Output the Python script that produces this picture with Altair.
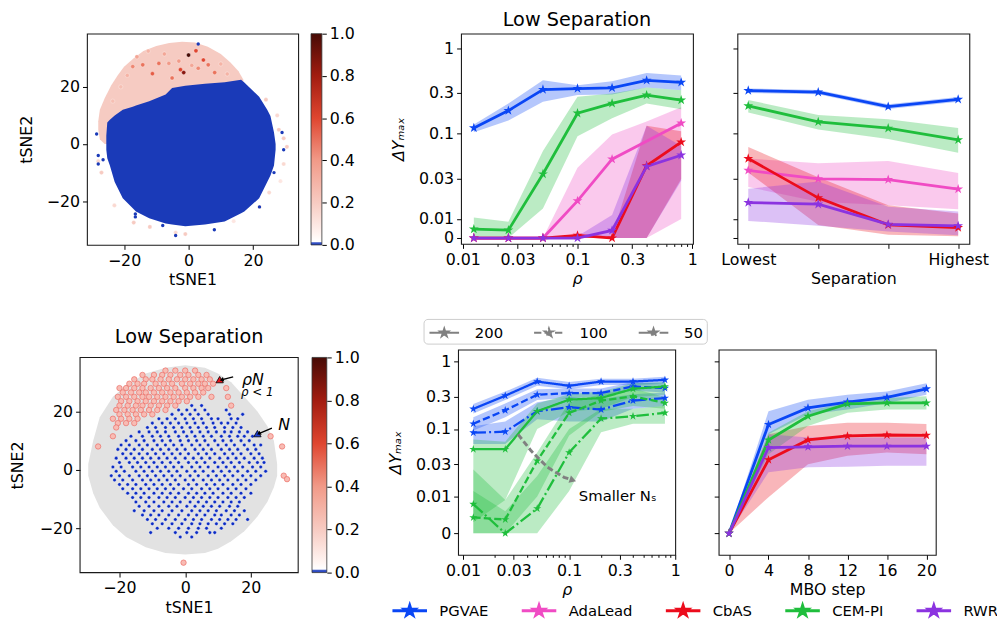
import math
import pandas as pd
import altair as alt

FONT = "DejaVu Sans"
METHODS = ["PGVAE", "AdaLead", "CbAS", "CEM-PI", "RWR"]
COLORS = ["#0a46f5", "#f04bc4", "#ec0c1c", "#1fbe3c", "#8b33e0"]

# ---------------- top middle: dYmax vs rho ----------------
RHO = [0.0125, 0.025, 0.05, 0.1, 0.2, 0.4, 0.8]
TM_M = {
    "PGVAE": [0.117, 0.187, 0.33, 0.339, 0.345, 0.423, 0.401],
    "AdaLead": [0, 0, 0, 0.0163, 0.0503, None, 0.133],
    "CbAS": [0, 0, 0, 0.0014, 0, 0.0421, 0.0797],
    "CEM-PI": [0.00466, 0.00414, 0.0337, 0.174, 0.227, 0.284, 0.248],
    "RWR": [0, 0, 0, 0, 0.004, 0.0414, 0.056],
}
TM_LO = {
    "PGVAE": [0.104, 0.143, 0.238, 0.284, 0.289, 0.348, 0.324],
    "AdaLead": [0, 0, 0, 0, 0, 0, 0.01],
    "CbAS": [0, 0, 0, 0, 0, 0, 0.0295],
    "CEM-PI": [0, 0, 0.0133, 0.0936, 0.152, 0.227, 0.194],
    "RWR": [0, 0, 0, 0, 0, 0, 0.028],
}
TM_HI = {
    "PGVAE": [0.128, 0.227, 0.423, 0.37, 0.412, 0.514, 0.483],
    "AdaLead": [0, 0, 0, 0.04, 0.098, 0.139, 0.204],
    "CbAS": [0, 0, 0, 0.002, 0.001, 0.124, 0.107],
    "CEM-PI": [0.0104, 0.0086, 0.0628, 0.271, 0.296, 0.348, 0.324],
    "RWR": [0, 0, 0, 0.001, 0.0111, 0.124, 0.0717],
}

# ---------------- top right: dYmax vs separation ----------------
SEP = [0, 1, 2, 3]
SEP_LABELS = ["Lowest", "", "", "Highest"]
TR_M = {
    "PGVAE": [0.321, 0.307, 0.208, 0.253],
    "AdaLead": [0.0372, 0.0295, 0.029, 0.0224],
    "CbAS": [0.0512, 0.0177, 0.0069, 0.0055],
    "CEM-PI": [0.212, 0.138, 0.116, 0.0849],
    "RWR": [0.0156, 0.0149, 0.0072, 0.0064],
}
TR_LO = {
    "PGVAE": [0.300, 0.290, 0.195, 0.238],
    "AdaLead": [0.0237, 0.0159, 0.0145, 0.013],
    "CbAS": [0.0352, 0.0069, 0.0017, 0.0009],
    "CEM-PI": [0.178, 0.112, 0.087, 0.060],
    "RWR": [0.009, 0.0065, 0.0034, 0.0014],
}
TR_HI = {
    "PGVAE": [0.340, 0.325, 0.222, 0.270],
    "AdaLead": [0.0512, 0.0452, 0.048, 0.0346],
    "CbAS": [0.0698, 0.0308, 0.0145, 0.0116],
    "CEM-PI": [0.249, 0.166, 0.148, 0.117],
    "RWR": [0.0226, 0.0275, 0.0139, 0.0122],
}

# ---------------- bottom middle: dYmax vs rho for N_s ----------------
NS = ["200", "100", "50"]
BM_METHODS = ["PGVAE", "CEM-PI"]
BM_M = {
    ("PGVAE", "200"): [0.199, 0.313, 0.508, 0.439, 0.508, 0.508, 0.537],
    ("PGVAE", "100"): [0.12, 0.19, 0.324, 0.342, 0.342, 0.429, 0.405],
    ("PGVAE", "50"): [0.0883, 0.0914, 0.184, 0.211, 0.195, 0.264, 0.289],
    ("CEM-PI", "200"): [0.0502, 0.0502, 0.184, 0.273, 0.289, 0.396, 0.429],
    ("CEM-PI", "100"): [0.0043, 0.00375, 0.0338, 0.174, 0.264, 0.306, 0.244],
    ("CEM-PI", "50"): [0.0079, 0.0, 0.0067, 0.0449, 0.143, 0.155, 0.174],
}
BM_LO = {
    ("PGVAE", "200"): [0.17, 0.27, 0.44, 0.39, 0.45, 0.45, 0.47],
    ("PGVAE", "100"): [0.095, 0.15, 0.27, 0.29, 0.30, 0.37, 0.35],
    ("PGVAE", "50"): [0.06, 0.06, 0.14, 0.13, 0.13, 0.20, 0.22],
    ("CEM-PI", "200"): [0.003, 0.009, 0.10, 0.18, 0.20, 0.30, 0.32],
    ("CEM-PI", "100"): [0, 0, 0.01, 0.08, 0.18, 0.22, 0.20],
    ("CEM-PI", "50"): [0, 0, 0, 0.012, 0.09, 0.12, 0.12],
}
BM_HI = {
    ("PGVAE", "200"): [0.235, 0.36, 0.58, 0.50, 0.56, 0.56, 0.60],
    ("PGVAE", "100"): [0.15, 0.24, 0.39, 0.40, 0.40, 0.50, 0.47],
    ("PGVAE", "50"): [0.11, 0.13, 0.25, 0.30, 0.28, 0.33, 0.35],
    ("CEM-PI", "200"): [0.07, 0.065, 0.24, 0.33, 0.36, 0.48, 0.50],
    ("CEM-PI", "100"): [0.025, 0.009, 0.045, 0.25, 0.33, 0.40, 0.30],
    ("CEM-PI", "50"): [0.012, 0.006, 0.02, 0.10, 0.20, 0.20, 0.22],
}
ARROW_RHO = [0.033, 0.0438, 0.0627, 0.0896, 0.106]
ARROW_V = [0.0835, 0.0474, 0.027, 0.0192, 0.0176]
NOTE_RHO = [0.1235]
NOTE_V = [0.01]
NOTE_TEXT = ["Smaller N\u209b"]

# ---------------- bottom right: dYmax vs MBO step ----------------
STEPS = [0, 4, 8, 12, 16, 20]
BR_METHODS = ["PGVAE", "CbAS", "CEM-PI", "RWR"]
BR_M = {
    "PGVAE": [0, 0.117, 0.206, 0.252, 0.296, 0.396],
    "CbAS": [0, 0.035, 0.0689, 0.0789, 0.0816, 0.0808],
    "CEM-PI": [0, 0.0689, 0.155, 0.236, 0.244, 0.244],
    "RWR": [0, 0.0532, 0.0544, 0.0556, 0.0556, 0.0556],
}
BR_LO = {
    "PGVAE": [0, 0.0835, 0.164, 0.195, 0.244, 0.324],
    "CbAS": [0, 0.0098, 0.03, 0.04, 0.0449, 0.0424],
    "CEM-PI": [0, 0.0424, 0.111, 0.174, 0.195, 0.195],
    "RWR": [0, 0.0228, 0.027, 0.0275, 0.0285, 0.0285],
}
BR_HI = {
    "PGVAE": [0, 0.184, 0.273, 0.324, 0.362, 0.48],
    "CbAS": [0, 0.0835, 0.111, 0.124, 0.124, 0.119],
    "CEM-PI": [0, 0.0883, 0.184, 0.252, 0.289, 0.306],
    "RWR": [0, 0.0835, 0.0746, 0.0746, 0.0746, 0.0746],
}

# ---------------- axis tick lists ----------------
Y_TICKS = [0, 0.01, 0.03, 0.1, 0.3, 1]
Y_TICK_LABELS = ["0", "0.01", "0.03", "0.1", "0.3", "1"]
RHO_MAJOR = [0.01, 0.03, 0.1, 0.3, 1]
RHO_MAJOR_LABELS = ["0.01", "0.03", "0.1", "0.3", "1"]
RHO_MINOR = [0.02, 0.04, 0.05, 0.06, 0.07, 0.08, 0.09, 0.2, 0.4, 0.5, 0.6, 0.7, 0.8, 0.9]
TSNE_TICKS = [-20, 0, 20]
CB_TICKS = [0.0, 0.2, 0.4, 0.6, 0.8, 1.0]

# colormap of the tSNE colorbar
CB_POS = [0.0, 0.01, 0.016, 0.05, 0.2, 0.4, 0.6, 0.8, 1.0]
CB_COL = ["#1e3ec0", "#3a56c6", "#ffffff", "#fff4f1", "#f7cbc2", "#f19a88",
          "#df4630", "#a21c10", "#470b05"]

# ---------------- top-left tSNE ----------------
CAP_X = [-28, -27.5, -26, -24, -22, -20, -17, -14, -10, -6, -2, 2, 6, 10, 13, 15.5, 17]
CAP_TOP = [8, 12, 16, 20.5, 24, 27, 30, 32.5, 34.3, 35.3, 35.8, 35.5, 34, 31.5, 28.5, 25.5, 22.5]
CAP_BOT = [5, 1.7, 0, 0, 0, 0, 0, 0, 0, 0, 0, 0, 0, 0, 0, 0, 0]
BLOB_X = [-25.5, -25.2, -24.4, -22.9, -20.4, -17.3, -16.3, -12.2, -7.1, -5.1, -1, 5.1,
          11.2, 16.3, 17.3, 21.9, 24.4, 25.4, 26.5, 27]
BLOB_TOP = [3, 7.5, 8.5, 10, 12, 13, 13.5, 15, 17.3, 19.6, 20.4, 21.1, 21.6, 22.5, 21.5,
            16.5, 12, 9.8, 4, 0]
BLOB_BOT = [-2, -5, -7.5, -13.3, -19, -22.5, -23.6, -26, -27.8, -28.2, -28.8, -28.2,
            -27.1, -24.2, -23.6, -19, -13.3, -11, -7.5, -2]
TL_PT_X = [0, -1.5, -2.5, 2.3, 4.6, -14.2, -11.2, -9.2, -5.1, 8.1, -17.3, 6.1, 3, -6.1,
           -16, -19, -3, 1, -7.5, -12.5, 10, -21, 12, -23.5,
           28, 29.5, 30.5, 29.5, 28.5, 25, 22, 14, -1, -4, -12, -17, -23, -27, -28, 24, 27.5]
TL_PT_Y = [31.1, 25, 26, 32.6, 29.4, 27.7, 24.6, 28.2, 23.1, 25, 27.1, 27.7, 26.5, 28.2,
           30.5, 24, 29, 27.5, 31.5, 32.5, 28, 20, 24.5, 15,
           5, 2, -1, -7, -13, -17, -22, -27, -31.5, -31, -29, -27.5, -21.5, -10, -6, 15.5, 10]
TL_PT_V = [1.0, 0.85, 0.6, 0.6, 0.6, 0.5, 0.55, 0.5, 0.5, 0.5, 0.45, 0.5, 0.45, 0.4,
           0.35, 0.3, 0.4, 0.35, 0.35, 0.3, 0.3, 0.25, 0.3, 0.25,
           0.2, 0.2, 0.2, 0.15, 0.1, 0.15, 0.1, 0.1, 0.2, 0.15, 0.2, 0.2, 0.15, 0.2, 0.15, 0.2, 0.15]
TL_BLUE_X = [-28.5, -28, -28, -26.5, -16.5, -16.5, -8, 8, 22, 29, 29.5, -4, 3, 26.5]
TL_BLUE_Y = [3.5, -4, -7, -5.5, -24.5, -25.5, -28.5, -30, -22, 4, -2, -32, 35, -10]

# ---------------- bottom-left tSNE ----------------
GRAY_X = [-29.5, -28, -26, -22, -18, -12, -6, 0, 6, 10, 14, 18, 22, 25, 27, 28]
GRAY_TOP = [2, 10, 18, 25, 29, 33, 35, 35.8, 35, 33, 30, 25, 20, 15, 10, 2]
GRAY_BOT = [-2, -8, -13, -19, -23, -26.5, -28.5, -29, -28.5, -27, -24.5, -21, -16, -11, -6, -2]
BLUE_ROWS = {
    22: [2, 5],
    20.5: [-2, 0.5, 3, 6, 12.5],
    19: [-4, -1, 1.5, 4, 7, 13.5, 17.5],
    17.5: [-8, -5.5, -3, 0, 2.5, 5, 8, 10, 14, 16],
    16: [-10, -7, -4.5, -2, 0.5, 3, 5.5, 8.5, 11, 13, 15.5],
    14.5: [-11.5, -9, -6, -3.5, -1, 1.5, 4, 6.5, 9, 12, 14.5, 17],
    13: [-14, -11, -8.5, -6, -3, -0.5, 2, 4.5, 7, 9.5, 12, 14, 16.5, 19],
    11.5: [-16.5, -13, -10, -7.5, -5, -2, 0.5, 3, 5.5, 8, 11, 13.5, 16, 18, 20.5],
    10: [-18, -15, -12.5, -9.5, -7, -4.5, -1.5, 1, 3.5, 6, 9, 11.5, 14, 17, 19.5],
    8.5: [-19.5, -17, -14, -11.5, -8.5, -6, -3.5, -1, 2, 4.5, 7, 10, 12.5, 15, 18, 21, 23],
    7: [-20.5, -18, -15.5, -13, -10, -7.5, -5, -2.5, 0, 3, 5.5, 8, 11, 13.5, 16, 19, 21.5],
    5.5: [-19, -16.5, -14, -11.5, -9, -6.5, -4, -1.5, 1, 4, 6.5, 9, 12, 14.5, 17, 20, 22.5],
    4: [-21, -18, -15.5, -13, -10.5, -8, -5.5, -3, 0, 2.5, 5, 7.5, 10.5, 13, 15.5, 18, 21, 23.5],
    2.5: [-20, -17, -14.5, -12, -9.5, -7, -4.5, -2, 1, 3.5, 6, 9, 11.5, 14, 16.5, 19.5, 22, 24],
    1: [-22, -19.5, -16, -13.5, -11, -8.5, -6, -3.5, -1, 2, 4.5, 7, 10, 12.5, 15, 17.5, 20.5, 23],
    -0.5: [-21, -18.5, -15, -12.5, -10, -7.5, -5, -2.5, 0.5, 3, 5.5, 8.5, 11, 13.5, 16, 19, 21.5, 24.5],
    -2: [-22.5, -20, -17, -14, -11.5, -9, -6.5, -4, -1.5, 1.5, 4, 7, 9.5, 12, 14.5, 17.5, 20, 23],
    -3.5: [-21.5, -19, -16, -13, -10.5, -8, -5.5, -3, 0, 2.5, 5.5, 8, 10.5, 13, 16, 18.5, 21.5],
    -5: [-20, -17.5, -15, -12, -9.5, -7, -4.5, -2, 1, 3.5, 6.5, 9, 11.5, 14.5, 17, 20],
    -6.5: [-19, -16, -13.5, -11, -8.5, -6, -3.5, -0.5, 2, 5, 7.5, 10, 13, 15.5, 18.5],
    -8: [-17.5, -15, -12.5, -9.5, -7, -4.5, -2, 1, 3.5, 6, 8.5, 11.5, 14, 17, 20],
    -9.5: [-16, -13.5, -11, -8, -5.5, -3, 0, 2.5, 5, 7.5, 10, 13, 15.5, 18],
    -11: [-15, -12, -9.5, -6.5, -4, -1.5, 1.5, 4, 6.5, 9, 11.5, 14, 16.5],
    -12.5: [-14, -11, -8, -5, -2.5, 0.5, 3, 5.5, 8, 10.5, 13.5, 16],
    -14: [-15.5, -12.5, -9.5, -7, -4, -1, 2, 4.5, 7, 9.5, 12.5, 15, 18],
    -15.5: [-13, -10.5, -8, -5, -2, 1, 3.5, 6, 9, 11, 14, 16.5],
    -17: [-11.5, -9, -6, -3, 0, 2.5, 5, 8, 10.5, 13, 15.5, 19],
    -18.5: [-10, -7, -4, -1, 2, 4.5, 7, 9.5, 12, 14.5],
    -20: [-8.5, -5, -2, 1, 4, 6.5, 11],
    -21.5: [-10.5, -3, 0.5, 3.5, 7.5, 9],
    -23: [-1.5, 2],
}
RED_ROWS = {
    34: [-6, -3, 0, 3],
    32.5: [-13, -9.5, -7, -4.5, -1.5, 1, 4, 6.5],
    31: [-15.5, -12, -10, -7.5, -5, -2.5, 0, 2.5, 5, 7.5],
    29.5: [-17, -14.5, -12.5, -9, -6.5, -4, -1, 1.5, 4, 6, 8.5],
    28: [-20, -18, -15.5, -13, -10.5, -8, -5.5, -3, 0, 2.5, 5, 7, 12.5],
    26.5: [-19, -16.5, -14, -12, -9.5, -7, -4.5, -2, 0.5, 3, 5.5],
    25: [-20.5, -18, -15.5, -13, -11, -8.5, -6, -3.5, -1, 1.5, 4, 8, 13],
    23.5: [-19.5, -17, -14.5, -12, -9.5, -7, -4.5, -2, 0.5],
    22: [-20, -17.5, -15, -13, -10.5, -8, -5.5, -3, 14],
    20.5: [-21, -18.5, -16, -13.5, -11, -8.5, -6],
    19: [-20, -17.5, -15, -12.5, -10],
    17.5: [-22, -19.5, -17, -14.5],
    16: [-20.5, -18, -15.5],
    14.5: [-21],
    11.5: [-22, 26],
    8: [-26.5, 29.5],
    -2: [30],
    -3.2: [31],
    -31.8: [-0.5],
}
TRI_X = [10.5, 22]
TRI_Y = [30.9, 12.4]
TRI_C = ["#e8141c", "#1c3ed2"]
ARR_X = [14.6, 26.4]
ARR_Y = [31.8, 14.3]
ARR_X2 = [11.3, 22.6]
ARR_Y2 = [30.9, 12.5]
ARR_ANGLE = [252, 243]
ANN_X = [17.3, 17.0, 28.3]
ANN_Y = [30.6, 26.6, 15.2]
ANN_TEXT = ["\u03c1N", "\u03c1 < 1", "N"]
ANN_SIZE = [16, 12, 16]

STAR = ("M0,-1L0.2245,-0.309L0.951,-0.309L0.363,0.118L0.588,0.809L0,0.382L-0.588,0.809"
        "L-0.363,0.118L-0.951,-0.309L-0.2245,-0.309Z")
# legend symbols: a line with a star on it (units of half the symbol box)
LEG_SYM = ("M-1.75,0L1.75,0M0,-0.525L0.118,-0.162L0.499,-0.162L0.191,0.062L0.309,0.425"
           "L0,0.201L-0.309,0.425L-0.191,0.062L-0.499,-0.162L-0.118,-0.162Z")
LEG_SYM2 = ("M-1.5,0L1.5,0M0,-0.45L0.101,-0.139L0.428,-0.139L0.163,0.053L0.265,0.364"
            "L0,0.172L-0.265,0.364L-0.163,0.053L-0.428,-0.139L-0.101,-0.139Z")

TOP_L, TOP_DOM = 0.2235, [-0.069, 2.397]
BOT_L, BOT_DOM = 0.549, [-0.319, 2.730]


def tval(v, L):
    return L * v / 0.01 if v <= 0.01 else L + math.log10(v / 0.01)


def y_axis(L, labels=True):
    vals = [round(tval(v, L), 6) for v in Y_TICKS]
    parts = [f"abs(datum.value - {tv}) < 0.001 ? '{lab}'" for tv, lab in zip(vals, Y_TICK_LABELS)]
    expr = " : ".join(parts) + " : ''"
    kw = dict(values=vals, labelExpr=expr, tickSize=4.5)
    if labels:
        kw.update(title="\u0394Y\u2098\u2090\u2093", titleFontStyle="italic", titlePadding=12)
    else:
        kw.update(labels=False, title=None)
    return alt.Axis(**kw)


def ycalc(ch, L, fields=("m", "lo", "hi")):
    for f in fields:
        ch = ch.transform_calculate(**{f + "_t": f"datum.{f} <= 0.01 ? {L}*datum.{f}/0.01 : {L} + log(datum.{f}/0.01)/LN10"})
    return ch


def rho_axis(title_pad):
    vals = sorted(RHO_MAJOR + RHO_MINOR)
    parts = [f"datum.value == {v} ? '{lab}'" for v, lab in zip(RHO_MAJOR, RHO_MAJOR_LABELS)]
    expr = " : ".join(parts) + " : ''"
    test = "indexof([" + ",".join(str(v) for v in RHO_MAJOR) + "], datum.value) >= 0"
    return alt.Axis(values=vals, labelExpr=expr, labelOverlap=False, labelFlush=False,
                    tickSize={"condition": {"test": test, "value": 4.5}, "value": 2.5},
                    title="\u03c1", titleFontStyle="italic", titlePadding=title_pad)


COLOR_SCALE = alt.Scale(domain=METHODS, range=COLORS)
COLOR_LEGEND = alt.Legend(
    orient="none", legendX=-68, legendY=253, direction="horizontal", title=None,
    symbolType=LEG_SYM, symbolSize=400, symbolOffset=7.5, symbolStrokeWidth=3,
    symbolOpacity=1, labelFontSize=15, labelFont=FONT, labelColor="black",
    labelOffset=18.5, columnPadding=27, padding=0)
DASH_SCALE = alt.Scale(domain=NS, range=[[1, 0], [7.4, 3.2], [12.8, 3.2, 2, 3.2]])
DASH_LEGEND = alt.Legend(
    orient="none", legendX=-35, legendY=-31, direction="horizontal", title=None,
    symbolType=LEG_SYM2, symbolSize=400, symbolStrokeColor="#808080",
    symbolFillColor="#808080", symbolStrokeWidth=1.8, symbolOffset=7, labelFontSize=15,
    labelFont=FONT, labelColor="black", labelOffset=20, columnPadding=27, padding=3,
    strokeColor="#cccccc", cornerRadius=4, fillColor="white")


def long_df(xs, M, LO, HI, keys):
    rows = []
    for k in keys:
        meth, ns = (k if isinstance(k, tuple) else (k, "200"))
        for i, x in enumerate(xs):
            rows.append(dict(x=x, method=meth, ns=ns, m=M[k][i], lo=LO[k][i], hi=HI[k][i]))
    return pd.DataFrame(rows)


def line_panel(df, X, L, dom, w, h, ylabels, sw, ssize, dash=False, extra=(), title=None,
               show_legend=False):
    yax = y_axis(L, ylabels)
    ysc = alt.Scale(domain=dom, nice=False, zero=False)
    col = alt.Color("method:N", scale=COLOR_SCALE,
                    legend=COLOR_LEGEND if show_legend else None)
    band_enc = dict(x=X, y=alt.Y("lo_t:Q", scale=ysc, axis=yax), y2="hi_t:Q", color=col)
    if dash:
        band_enc["detail"] = "ns:N"
    band = ycalc(alt.Chart(df), L).mark_area(fillOpacity=0.3, orient="vertical").encode(**band_enc)
    lb = ycalc(alt.Chart(df).transform_filter("isValid(datum.m)"), L)
    line_enc = dict(x=X, y=alt.Y("m_t:Q", scale=ysc, axis=yax), color=col)
    if dash:
        line_enc["strokeDash"] = alt.StrokeDash("ns:N", scale=DASH_SCALE, legend=DASH_LEGEND)
    line = lb.mark_line(strokeWidth=sw).encode(**line_enc)
    pts = lb.mark_point(shape=STAR, filled=True, size=ssize, opacity=1).encode(
        x=X, y=alt.Y("m_t:Q", scale=ysc, axis=yax), color=col)
    layers = [band, line, pts] + [e(X, ysc, yax) for e in extra]
    ch = alt.layer(*layers).properties(width=w, height=h)
    if title:
        ch = ch.properties(title=alt.TitleParams(title, fontSize=19.5, fontWeight="normal",
                                                 font=FONT, offset=3, color="black"))
    return ch


def colorbar(view_w, x_left, x_right, yrange):
    cb = pd.DataFrame({"lo": [0.0], "hi": [1.0]})
    grad = alt.LinearGradient(gradient="linear", x1=0, x2=0, y1=1, y2=0,
                              stops=[alt.GradientStop(color=c, offset=p) for p, c in zip(CB_POS, CB_COL)])
    return alt.Chart(cb).mark_rect(fill=grad, stroke="#333333", strokeWidth=0.8).encode(
        x=alt.value(x_left), x2=alt.value(x_right),
        y=alt.Y("lo:Q", scale=alt.Scale(domain=[0, 1], nice=False, range=yrange),
                axis=alt.Axis(orient="right", values=CB_TICKS, format=".1f", title=None,
                              offset=x_right - view_w, tickSize=4.5)),
        y2="hi:Q")


def tsne_axes(xdom, ydom, ytitle_pad, yrange):
    X = alt.X("x:Q", scale=alt.Scale(domain=xdom, nice=False, zero=False),
              axis=alt.Axis(values=TSNE_TICKS, title="tSNE1", titlePadding=4))
    Y = alt.Y("y:Q", scale=alt.Scale(domain=ydom, nice=False, zero=False, range=yrange),
              axis=alt.Axis(values=TSNE_TICKS, title="tSNE2", titlePadding=ytitle_pad))
    return X, Y


FILL_SCALE = alt.Scale(domain=CB_POS, range=CB_COL)

# ---- top-left scatter (plot area 214 x 214)
X1, Y1 = tsne_axes([-31.5, 34], [-35.3, 38.6], 12, [214, 0])
cap = alt.Chart(pd.DataFrame({"x": CAP_X, "y": CAP_TOP, "y2": CAP_BOT})).mark_area(
    color="#f6cbc2", orient="vertical").encode(x=X1, y=Y1, y2="y2:Q")
blob = alt.Chart(pd.DataFrame({"x": BLOB_X, "y": BLOB_TOP, "y2": BLOB_BOT})).mark_area(
    color="#1a3ab8", orient="vertical").encode(x=X1, y=Y1, y2="y2:Q")
tl_pts = alt.Chart(pd.DataFrame({"x": TL_PT_X, "y": TL_PT_Y, "v": TL_PT_V})).mark_circle(
    size=18, opacity=1, stroke="white", strokeWidth=0.3).encode(
    x=X1, y=Y1, fill=alt.Fill("v:Q", scale=FILL_SCALE, legend=None))
tl_blue = alt.Chart(pd.DataFrame({"x": TL_BLUE_X, "y": TL_BLUE_Y})).mark_circle(
    size=12, opacity=1, color="#1a3ab8").encode(x=X1, y=Y1)
scatter1 = alt.layer(
    alt.layer(cap, blob, tl_pts, tl_blue),
    colorbar(214, 227, 238, [214, 0]),
).resolve_scale(y="independent").properties(width=214, height=214)

# ---- bottom-left scatter (view 221 x 226, plot area in rows 8..226)
X2, Y2 = tsne_axes([-32, 34.4], [-35.2, 38.5], 14, [226, 8])
frame = alt.Chart(pd.DataFrame({"z": [0]})).mark_rect(
    fill="transparent", stroke="#1a1a1a", strokeWidth=1.1).encode(
    x=alt.value(0), x2=alt.value(221), y=alt.value(8), y2=alt.value(226))
gray = alt.Chart(pd.DataFrame({"x": GRAY_X, "y": GRAY_TOP, "y2": GRAY_BOT})).mark_area(
    color="#e2e2e2", orient="vertical").encode(x=X2, y=Y2, y2="y2:Q")
red_df = pd.DataFrame([(x, y) for y, xs in RED_ROWS.items() for x in xs], columns=["x", "y"])
blue_df = pd.DataFrame([(x, y) for y, xs in BLUE_ROWS.items() for x in xs], columns=["x", "y"])
reds = alt.Chart(red_df).mark_point(filled=True, size=30, fill="#f8bcb4", stroke="#ec6e66",
                                    strokeWidth=0.7, opacity=1).encode(x=X2, y=Y2)
blues = alt.Chart(blue_df).mark_circle(size=13, color="#0c2cc4", opacity=1, stroke="white",
                                       strokeWidth=0.4).encode(x=X2, y=Y2)
tri = alt.Chart(pd.DataFrame({"x": TRI_X, "y": TRI_Y, "c": TRI_C})).mark_point(
    shape="triangle-up", filled=True, size=55, stroke="black", strokeWidth=0.8, opacity=1).encode(
    x=X2, y=Y2, fill=alt.Fill("c:N", scale=None))
arr = alt.Chart(pd.DataFrame({"x": ARR_X, "y": ARR_Y, "x2": ARR_X2, "y2": ARR_Y2})).mark_rule(
    color="black", strokeWidth=1.3).encode(x=X2, y=Y2, x2="x2:Q", y2="y2:Q")
arr_head = alt.Chart(pd.DataFrame({"x": ARR_X2, "y": ARR_Y2, "a": ARR_ANGLE})).mark_point(
    shape="triangle", filled=True, size=22, color="black", opacity=1).encode(
    x=X2, y=Y2, angle=alt.Angle("a:Q", scale=None))
ann = alt.Chart(pd.DataFrame({"x": ANN_X, "y": ANN_Y, "t": ANN_TEXT, "s": ANN_SIZE})).mark_text(
    align="left", baseline="middle", fontStyle="italic", font=FONT, color="black").encode(
    x=X2, y=Y2, text="t:N", size=alt.Size("s:Q", scale=None))
scatter2 = alt.layer(
    alt.layer(gray, reds, blues, tri, arr, arr_head, ann, frame),
    colorbar(221, 235, 250, [226, 8]),
).resolve_scale(y="independent").properties(
    width=221, height=226, view=alt.ViewBackground(stroke="transparent"),
    title=alt.TitleParams("Low Separation", fontSize=19.5, fontWeight="normal", font=FONT,
                          offset=2, color="black"))

# ---- line panels
X_TM = alt.X("x:Q", scale=alt.Scale(type="log", domain=[0.00967, 1.014], nice=False), axis=rho_axis(4))
X_BM = alt.X("x:Q", scale=alt.Scale(type="log", domain=[0.00898, 1.0], nice=False), axis=rho_axis(4))
X_TR = alt.X("x:Q", scale=alt.Scale(domain=[-0.155, 3.16], nice=False, zero=False),
             axis=alt.Axis(values=SEP, title="Separation", titlePadding=4,
                           labelExpr=" : ".join(f"datum.value == {s} ? '{l}'" for s, l in zip(SEP, SEP_LABELS)) + " : ''"))
X_BR = alt.X("x:Q", scale=alt.Scale(domain=[-1.05, 20.95], nice=False, zero=False),
             axis=alt.Axis(values=STEPS, title="MBO step", titlePadding=4))

tm = line_panel(long_df(RHO, TM_M, TM_LO, TM_HI, METHODS), X_TM, TOP_L, TOP_DOM, 235, 213,
                True, 2.8, 110, title="Low Separation")
tr = line_panel(long_df(SEP, TR_M, TR_LO, TR_HI, METHODS), X_TR, TOP_L, TOP_DOM, 235, 213,
                False, 2.8, 110)


def smaller_arrow(X, ysc, yax):
    d = pd.DataFrame({"x": ARROW_RHO, "m": ARROW_V, "i": list(range(len(ARROW_RHO)))})
    return ycalc(alt.Chart(d), BOT_L, ("m",)).mark_line(
        color="#808080", strokeWidth=3, strokeDash=[6, 3]).encode(
        x=X, y=alt.Y("m_t:Q", scale=ysc, axis=yax), order="i:Q")


def smaller_head(X, ysc, yax):
    d = pd.DataFrame({"x": ARROW_RHO[-1:], "m": ARROW_V[-1:]})
    return ycalc(alt.Chart(d), BOT_L, ("m",)).mark_point(
        shape="triangle", filled=True, size=60, color="#808080", opacity=1, angle=108).encode(
        x=X, y=alt.Y("m_t:Q", scale=ysc, axis=yax))


def smaller_text(X, ysc, yax):
    d = pd.DataFrame({"x": NOTE_RHO, "m": NOTE_V, "t": NOTE_TEXT})
    return ycalc(alt.Chart(d), BOT_L, ("m",)).mark_text(
        align="left", baseline="middle", fontSize=15, font=FONT, color="black").encode(
        x=X, y=alt.Y("m_t:Q", scale=ysc, axis=yax), text="t:N")


bm = line_panel(long_df(RHO, BM_M, BM_LO, BM_HI, [(m, n) for m in BM_METHODS for n in NS]),
                X_BM, BOT_L, BOT_DOM, 220, 208, True, 2.3, 75, dash=True,
                extra=(smaller_arrow, smaller_head, smaller_text), show_legend=True)
br = line_panel(long_df(STEPS, BR_M, BR_LO, BR_HI, BR_METHODS), X_BR, BOT_L, BOT_DOM, 220, 208,
                False, 2.8, 95)


def spacer(w, h):
    return alt.Chart(pd.DataFrame({"z": [0]})).mark_point(opacity=0).properties(
        width=w, height=h, view=alt.ViewBackground(stroke="transparent"))


IND = dict(color="independent", strokeDash="independent", fill="independent")
row1 = alt.hconcat(spacer(7, 1), scatter1, spacer(165, 1), tm, spacer(45, 1), tr,
                   spacing=0, bounds="flush").resolve_scale(**IND)
row2 = alt.hconcat(scatter2, spacer(162, 1), bm, spacer(44, 1), br,
                   spacing=0, bounds="flush").resolve_scale(**IND)

chart = alt.vconcat(row1, row2, spacing=28).resolve_scale(**IND).properties(
    padding={"left": 1, "top": -3, "right": -3, "bottom": -6}
).configure_view(stroke="#1a1a1a", strokeWidth=1.1).configure_axis(
    labelFont=FONT, titleFont=FONT, labelFontSize=16, titleFontSize=16,
    titleFontWeight="normal", labelColor="black", titleColor="black", tickColor="black",
    domain=False, grid=False, labelPadding=3, tickSize=4.5
).configure_legend(labelFont=FONT).configure_text(font=FONT)

chart.save("out.html", embed_options={"renderer": "svg", "actions": False})
